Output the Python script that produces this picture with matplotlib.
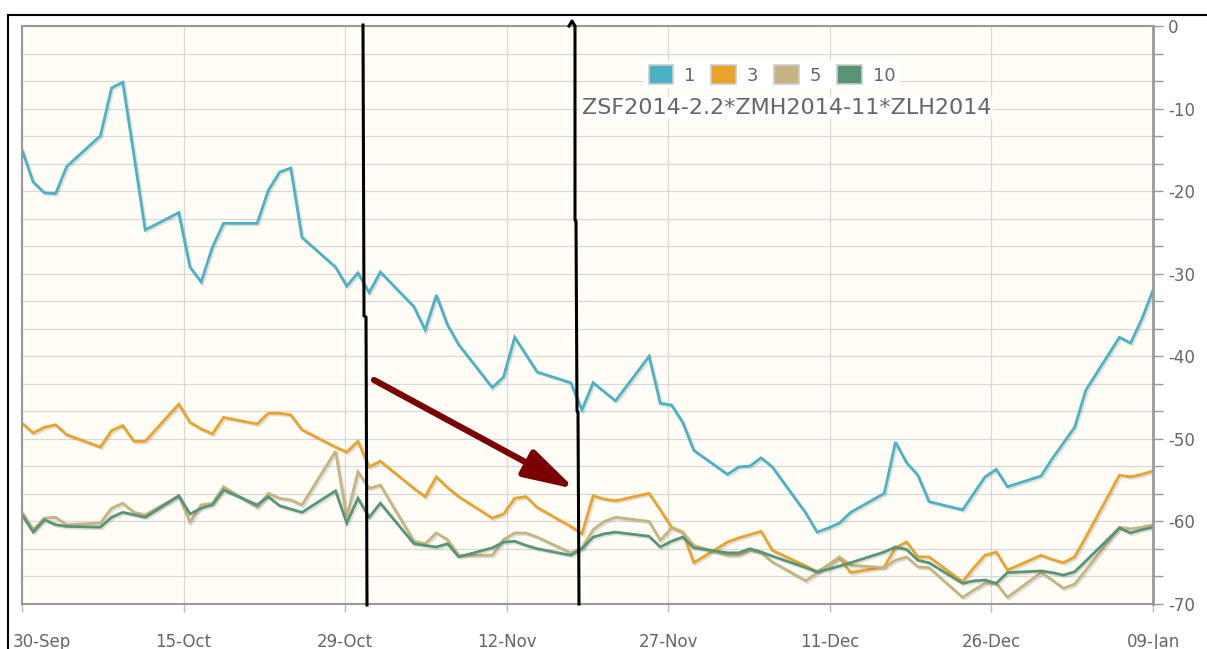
import matplotlib.pyplot as plt
import matplotlib.dates as mdates
import matplotlib.patheffects as pe
from matplotlib.patches import Patch
from matplotlib.lines import Line2D
from matplotlib.transforms import ScaledTranslation
import numpy as np
import pandas as pd

W, H = 1207, 649

# weekdays from 30-Sep-2013 to 09-Jan-2014
days = pd.bdate_range('2013-09-30', '2014-01-09')

series_names = ['1', '3', '5', '10']
series_colors = ['#4bb2c5', '#eaa228', '#c5b47f', '#579575']

s1 = [-15.0, -18.9, -20.2, -20.3, -17.0,
      -13.3, -7.5, -6.8, -15.7, -24.7,
      -22.6, -29.2, -31.0, -26.8, -23.9,
      -23.9, -19.9, -17.7, -17.2, -25.6,
      -29.2, -31.5, -29.9, -32.3, -29.8,
      -34.0, -36.8, -32.6, -36.2, -38.6,
      -43.8, -42.5, -37.7, -39.8, -41.9,
      -43.2, -46.5, -43.2, -44.3, -45.4,
      -40.0, -45.7, -45.9, -48.0, -51.4,
      -54.3, -53.4, -53.3, -52.3, -53.4,
      -59.0, -61.3, -60.8, -60.2, -58.9,
      -56.6, -50.4, -52.9, -54.4, -57.6,
      -58.6, -56.6, -54.6, -53.7, -55.8,
      -54.5, -52.4, -50.5, -48.6, -44.1,
      -37.7, -38.4, -35.5, -32.0]

s3 = [-48.1, -49.3, -48.6, -48.3, -49.5,
      -51.0, -49.0, -48.4, -50.3, -50.3,
      -45.8, -48.0, -48.8, -49.4, -47.4,
      -48.2, -46.9, -46.9, -47.1, -48.9,
      -51.0, -51.6, -50.3, -53.4, -52.7,
      -56.0, -57.0, -54.6, -55.9, -57.0,
      -59.6, -59.1, -57.2, -57.0, -58.3,
      -60.6, -61.5, -56.9, -57.3, -57.5,
      -56.6, -58.6, -60.7, -61.3, -65.0,
      -62.5, -62.0, -61.6, -61.2, -63.5,
      -65.4, -66.1, -65.3, -64.4, -66.2,
      -65.5, -63.2, -62.5, -64.3, -64.3,
      -67.3, -65.6, -64.1, -63.7, -65.9,
      -64.1, -64.6, -65.0, -64.3, -61.9,
      -54.4, -54.6, -54.3, -53.9]

s5 = [-58.9, -61.0, -59.6, -59.5, -60.4,
      -60.2, -58.4, -57.8, -58.9, -59.2,
      -56.9, -60.1, -58.0, -57.8, -55.8,
      -58.3, -56.6, -57.2, -57.4, -58.0,
      -51.5, -59.5, -54.0, -56.0, -55.6,
      -62.4, -62.7, -61.4, -62.2, -64.1,
      -64.1, -62.2, -61.4, -61.4, -61.9,
      -63.8, -63.2, -61.0, -60.0, -59.5,
      -60.0, -62.3, -60.8, -61.3, -62.9,
      -64.1, -64.1, -63.5, -63.8, -64.9,
      -67.2, -66.2, -65.3, -64.3, -65.3,
      -65.6, -64.7, -64.3, -65.5, -65.6,
      -69.2, -68.3, -67.5, -67.5, -69.2,
      -66.2, -67.1, -68.1, -67.6, -65.9,
      -60.7, -60.9, -60.7, -60.4]

s10 = [-59.2, -61.3, -59.8, -60.4, -60.6,
       -60.7, -59.5, -58.9, -59.2, -59.5,
       -56.9, -59.1, -58.4, -58.0, -56.2,
       -58.0, -57.0, -58.1, -58.5, -58.9,
       -56.3, -60.2, -57.2, -59.5, -57.8,
       -62.7, -62.9, -63.1, -62.7, -64.3,
       -63.2, -62.5, -62.4, -62.9, -63.3,
       -64.1, -63.3, -61.9, -61.5, -61.3,
       -61.8, -63.1, -62.4, -61.9, -63.2,
       -63.8, -63.8, -63.3, -63.7, -64.2,
       -65.6, -66.1, -65.8, -65.4, -65.0,
       -63.7, -63.1, -63.4, -64.7, -65.0,
       -67.5, -67.2, -67.1, -67.5, -66.2,
       -66.0, -66.2, -66.5, -66.1, -64.8,
       -60.8, -61.4, -61.0, -60.7]

x_tick_labels = ['30-Sep', '15-Oct', '29-Oct', '12-Nov', '27-Nov', '11-Dec', '26-Dec', '09-Jan']
y_tick_labels = ['0', '-10', '-20', '-30', '-40', '-50', '-60', '-70']
title = 'ZSF2014-2.2*ZMH2014-11*ZLH2014'

fig = plt.figure(figsize=(W / 100, H / 100), dpi=100, facecolor='white')
ax = fig.add_axes([22 / W, 1 - 604 / H, (1153 - 22) / W, (604 - 26) / H])
ax.set_facecolor('#fffdf6')

x = mdates.date2num(days.to_pydatetime())
x0, x1 = x[0], x[-1]

shadow = [pe.SimpleLineShadow(offset=(1.2, -1.2), alpha=0.12, shadow_color='black'), pe.Normal()]
for vals, col in zip([s1, s3, s5, s10], series_colors):
    ax.plot(x, vals, color=col, lw=2.0, path_effects=shadow, solid_joinstyle='miter')

ax.set_xlim(x0, x1)
ax.set_ylim(-70, 0)

ax.set_xticks(np.linspace(x0, x1, len(x_tick_labels)))
ax.set_xticklabels(x_tick_labels)
yt = np.linspace(0, -70, 22)
ax.set_yticks(yt)
ax.set_yticklabels([y_tick_labels[i // 3] if i % 3 == 0 else '' for i in range(len(yt))])
ax.yaxis.tick_right()

ax.grid(True, color='#d8d8d8', lw=0.9)
ax.set_axisbelow(True)
ax.tick_params(axis='y', length=7, width=1, color='#999999', labelcolor='#666666', labelsize=12, pad=4)
ax.tick_params(axis='x', length=6, width=1, color='#bbbbbb', labelcolor='#666666', labelsize=12, pad=15)
for sp in ax.spines.values():
    sp.set_color('#999999')
    sp.set_linewidth(1.5)
ax.spines['right'].set_linewidth(2)

lab0 = ax.get_xticklabels()[0]
lab0.set_ha('left')
lab0.set_transform(lab0.get_transform() + ScaledTranslation(-0.09, 0, fig.dpi_scale_trans))

# legend + title
handles = [Patch(facecolor=c, edgecolor='#cccccc', lw=1.2) for c in series_colors]
leg = ax.legend(handles, series_names, ncol=4, loc='center', bbox_to_anchor=(0.663, 0.915),
                fontsize=13, handlelength=1.35, handleheight=1.2, columnspacing=0.9,
                handletextpad=0.6, borderpad=0.25, labelcolor='#666666', fancybox=False)
leg.get_frame().set_facecolor('white')
leg.get_frame().set_edgecolor('none')
leg.get_frame().set_alpha(1)

ax.text(0.676, 0.858, title, transform=ax.transAxes, ha='center', va='center', fontsize=16,
        color='#666666', bbox=dict(fc='white', ec='none', pad=1))


def px(pts):
    return [p[0] / W for p in pts], [1 - p[1] / H for p in pts]


# screenshot border
for pts in [[(8, 15), (W, 15)], [(8, 15), (8, H)]]:
    xs, ys = px(pts)
    fig.add_artist(Line2D(xs, ys, color='black', lw=1.5))

# hand drawn markers
for pts in [[(363, 25), (364, 316), (366, 317), (367, 605)],
            [(569, 26), (572, 21), (575, 26), (575, 220), (576, 221), (577, 411), (578, 412), (579, 604)]]:
    xs, ys = px(pts)
    fig.add_artist(Line2D(xs, ys, color='black', lw=2.2, zorder=5))

ax.annotate('', xy=(575, H - 489), xytext=(374, H - 380), xycoords='figure pixels',
            textcoords='figure pixels',
            arrowprops=dict(arrowstyle='-|>,head_length=1.4,head_width=0.4', mutation_scale=22,
                            lw=4.5, color='#7b0000', shrinkA=0, shrinkB=0,
                            capstyle='round', joinstyle='round'))

fig.savefig('out.png', dpi=100)
